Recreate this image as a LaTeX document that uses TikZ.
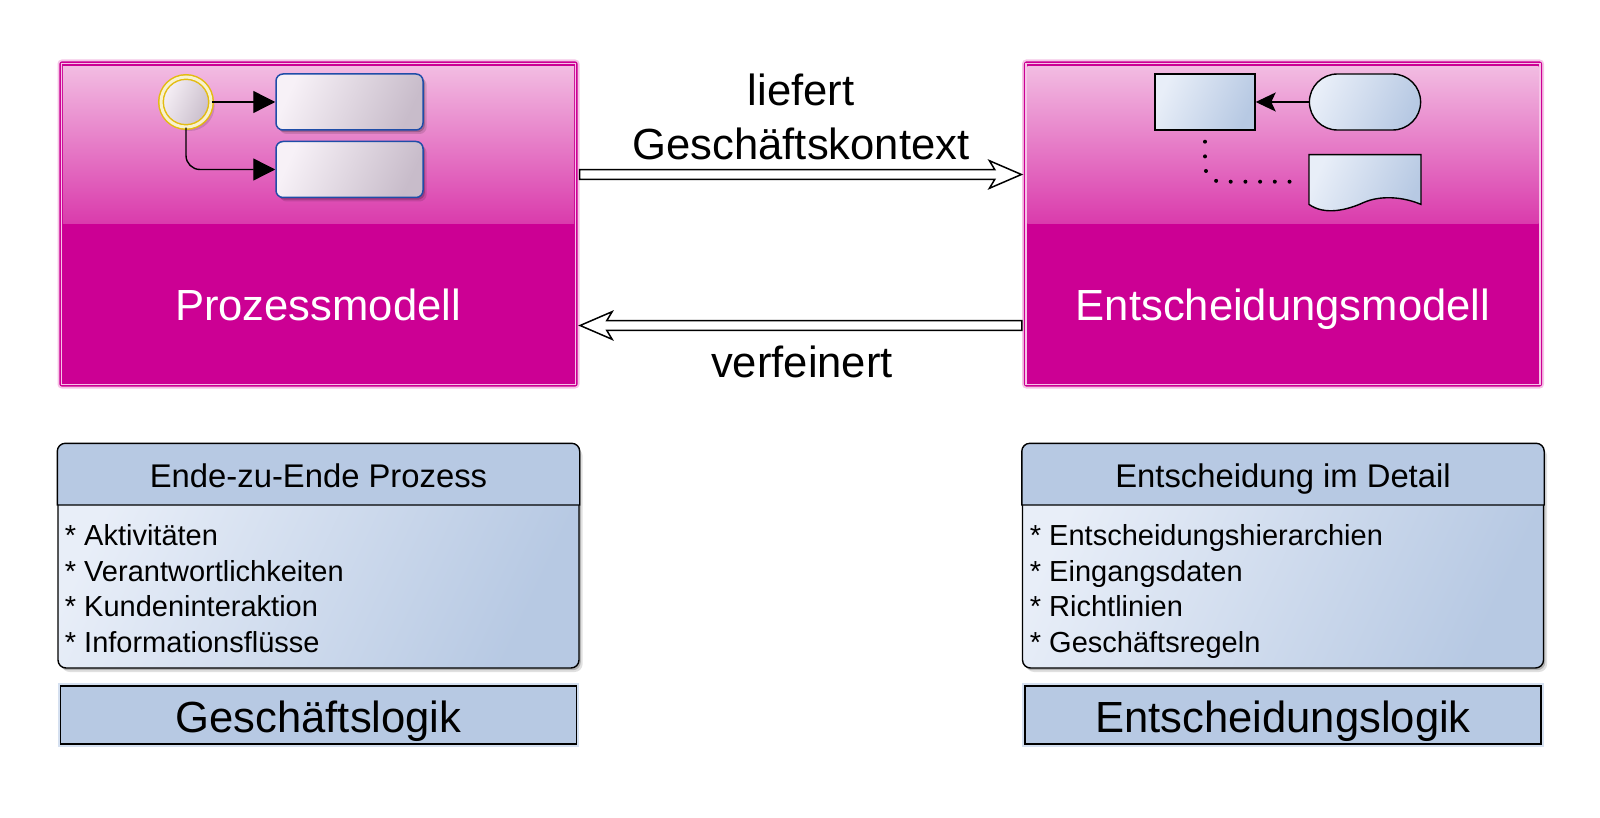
\documentclass[tikz,border=0pt]{standalone}
\usepackage{fontspec}
\setmainfont{Liberation Sans}
\usetikzlibrary{arrows.meta,shadows,shapes.geometric}
\definecolor{modelfill}{HTML}{CC0094}
\definecolor{modeltop}{HTML}{F2BCE2}
\definecolor{modellow}{HTML}{DA3BAC}
\definecolor{modelhalo}{HTML}{F5C4E6}
\definecolor{bluelight}{HTML}{E8EEF8}
\definecolor{bluedark}{HTML}{B7C9E3}
\definecolor{bluehalo}{HTML}{D5E0F0}
\definecolor{tasklight}{HTML}{F7F1F7}
\definecolor{taskdark}{HTML}{C8BCCA}
\definecolor{taskline}{HTML}{1F4DA8}
\definecolor{eventgold}{HTML}{E3BC10}
\definecolor{eventpale}{HTML}{F8F1CE}
\tikzset{
  softshadow/.style={drop shadow={shadow xshift=1.8pt,shadow yshift=-2pt,opacity=.12,fill=black},
    drop shadow={shadow xshift=.9pt,shadow yshift=-1.1pt,opacity=.2,fill=black}},
  diagfill/.style 2 args={left color=#1,right color=#2,shading angle=65},
  modelbox/.style={rectangle,minimum width=258.4pt,minimum height=161.9pt,inner sep=0pt,outer sep=0pt,
    rounded corners=1pt,fill=modelfill,draw=modelfill,line width=.7pt,
    preaction={draw=modelhalo,line width=2.6pt}},
  modelhead/.style={rectangle,minimum width=255.6pt,minimum height=78.5pt,inner sep=0pt,outer sep=0pt,
    top color=modeltop,bottom color=modellow},
  modelframe/.style={rectangle,minimum width=257pt,minimum height=160.5pt,inner sep=0pt,
    draw=modelhalo,line width=.7pt},
  modeltext/.style={anchor=base,text=white,font=\fontsize{21.8}{26}\selectfont},
  linktext/.style={align=center,text=black,font=\fontsize{21.8}{27}\selectfont},
  tasknode/.style={rectangle,rounded corners=3.5pt,minimum width=73.5pt,minimum height=28pt,inner sep=0pt,
    diagfill={tasklight}{taskdark},draw=taskline,line width=.75pt,softshadow},
  startevent/.style={circle,minimum size=25pt,inner sep=0pt,diagfill={tasklight}{taskdark},
    draw=eventgold,line width=.75pt,double=eventpale,double distance=1.5pt,softshadow},
  flowarrow/.style={line width=.7pt,rounded corners=7pt,-{Triangle[length=11pt,width=11pt]}},
  dmnbox/.style={rectangle,minimum width=50pt,minimum height=28pt,inner sep=0pt,
    diagfill={bluelight}{bluedark},draw=black,line width=.7pt},
  dmnpill/.style={dmnbox,minimum width=55.6pt,rounded corners=14pt},
  dmnlink/.style={line width=.7pt,-{Stealth[length=10pt,width=9.5pt,inset=2.2pt]}},
  dmndots/.style={line width=2pt,line cap=round,dash pattern=on 0pt off 7.35pt,rounded corners=8pt},
  bigarrow/.style={fill=white,draw=black,line width=.75pt,to path={
    ([yshift=2.4pt]\tikztostart) -- ([xshift=#1*-13.3pt,yshift=2.4pt]\tikztotarget)
    -- ([xshift=#1*-16pt,yshift=6.9pt]\tikztotarget) -- (\tikztotarget)
    -- ([xshift=#1*-16pt,yshift=-6.9pt]\tikztotarget) -- ([xshift=#1*-13.3pt,yshift=-2.4pt]\tikztotarget)
    -- ([yshift=-2.4pt]\tikztostart) -- cycle}},
  panelbox/.style={rectangle,rounded corners=4pt,minimum width=260.5pt,minimum height=112pt,inner sep=0pt,
    diagfill={bluelight}{bluedark},draw=black,line width=.7pt,softshadow},
  panelhead/.style={fill=bluedark,draw=black,line width=.7pt},
  paneltitle/.style={anchor=base,text=black,font=\fontsize{16.4}{20}\selectfont},
  panellist/.style={align=left,anchor=north west,inner sep=0pt,text=black,font=\fontsize{14.5}{17.7}\selectfont},
  logicbox/.style={rectangle,minimum width=258pt,minimum height=29pt,inner sep=0pt,fill=bluedark,
    draw=black,line width=.7pt,preaction={draw=bluehalo,line width=2.8pt}},
  logictext/.style={anchor=base,text=black,font=\fontsize{21.8}{26}\selectfont}
}
\begin{document}
\begin{tikzpicture}[x=0.5pt,y=-0.5pt]
  \useasboundingbox (0,0) rectangle (1600,818);
  % upper boxes
  \node[modelbox] (procbox) at (318.5,224) {};
  \node[modelbox] (decbox) at (1283,224) {};
  \node[modelhead] (prochead) at (318.5,145) {};
  \node[modelhead] (dechead) at (1283,145) {};
  \node[modelframe] (procframe) at (318.5,224) {};
  \node[modelframe] (decframe) at (1283,224) {};
  \node[modeltext] (proctext) at (318,321) {Prozessmodell};
  \node[modeltext] (dectext) at (1283,321) {Entscheidungsmodell};

  % process icon
  \node[startevent] (start) at (186,102) {};
  \node[tasknode] (taskone) at (349.5,102) {};
  \node[tasknode] (tasktwo) at (349.5,169.5) {};
  \draw[flowarrow] (start) to (taskone);
  \draw[flowarrow] (start) |- (tasktwo);

  % decision icon
  \node[dmnbox] (dmntable) at (1205,102) {};
  \node[dmnpill] (dmndata) at (1365,102) {};
  \node[rectangle,minimum width=55.6pt,minimum height=24.5pt,inner sep=0pt] (dmndoc) at (1365,179.5) {};
  \draw[diagfill={bluelight}{bluedark},draw=black,line width=.7pt]
    (dmndoc.north west) -- (dmndoc.north east) -- (dmndoc.south east)
    .. controls +(-9pt,3.8pt) and +(8.6pt,3.8pt) .. ([xshift=-28.8pt,yshift=.9pt]dmndoc.south east)
    .. controls +(-7.8pt,-3.6pt) and +(8pt,-5.7pt) .. (dmndoc.south west) -- cycle;
  \draw[dmnlink] (dmndata) to (dmntable);
  \draw[dmndots,shorten <=5.5pt,shorten >=2.5pt] (dmntable.south) |- ([yshift=-1.1pt]dmndoc.west);

  % links between the boxes
  \coordinate (upstart) at ([xshift=1.3pt,yshift=24.75pt]procbox.east);
  \coordinate (uptip) at ([xshift=-1.6pt,yshift=24.75pt]decbox.west);
  \coordinate (downstart) at ([xshift=-1.4pt,yshift=-50.75pt]decbox.west);
  \coordinate (downtip) at ([xshift=1.6pt,yshift=-50.75pt]procbox.east);
  \draw[bigarrow=1] (upstart) to (uptip);
  \draw[bigarrow=-1] (downstart) to (downtip);
  \node[linktext] (linkup) at (801,116.5) {liefert\\Geschäftskontext};
  \node[linktext] (linkdown) at (802,362) {verfeinert};

  % lower panels
  \node[panelbox] (procpanel) at (318.5,556) {};
  \node[panelbox] (decpanel) at (1283,556) {};
  \draw[panelhead] (procpanel.west |- 0,505) [rounded corners=4pt] -- (procpanel.north west)
    -- (procpanel.north east) [sharp corners] -- (procpanel.east |- 0,505) -- cycle;
  \draw[panelhead] (decpanel.west |- 0,505) [rounded corners=4pt] -- (decpanel.north west)
    -- (decpanel.north east) [sharp corners] -- (decpanel.east |- 0,505) -- cycle;
  \node[paneltitle] (proctitle) at (318.5,487) {Ende-zu-Ende Prozess};
  \node[paneltitle] (dectitle) at (1283,487) {Entscheidung im Detail};
  \node[panellist] (proclist) at (64.5,524.5) {* Aktivitäten\\* Verantwortlichkeiten\\* Kundeninteraktion\\* Informationsflüsse};
  \node[panellist] (declist) at (1029.5,524.5) {* Entscheidungshierarchien\\* Eingangsdaten\\* Richtlinien\\* Geschäftsregeln};
  \node[logicbox] (proclogic) at (318.5,715) {};
  \node[logicbox] (declogic) at (1283,715) {};
  \node[logictext] (proclogictext) at (318.5,732) {Geschäftslogik};
  \node[logictext] (declogictext) at (1283,732) {Entscheidungslogik};
\end{tikzpicture}
\end{document}
